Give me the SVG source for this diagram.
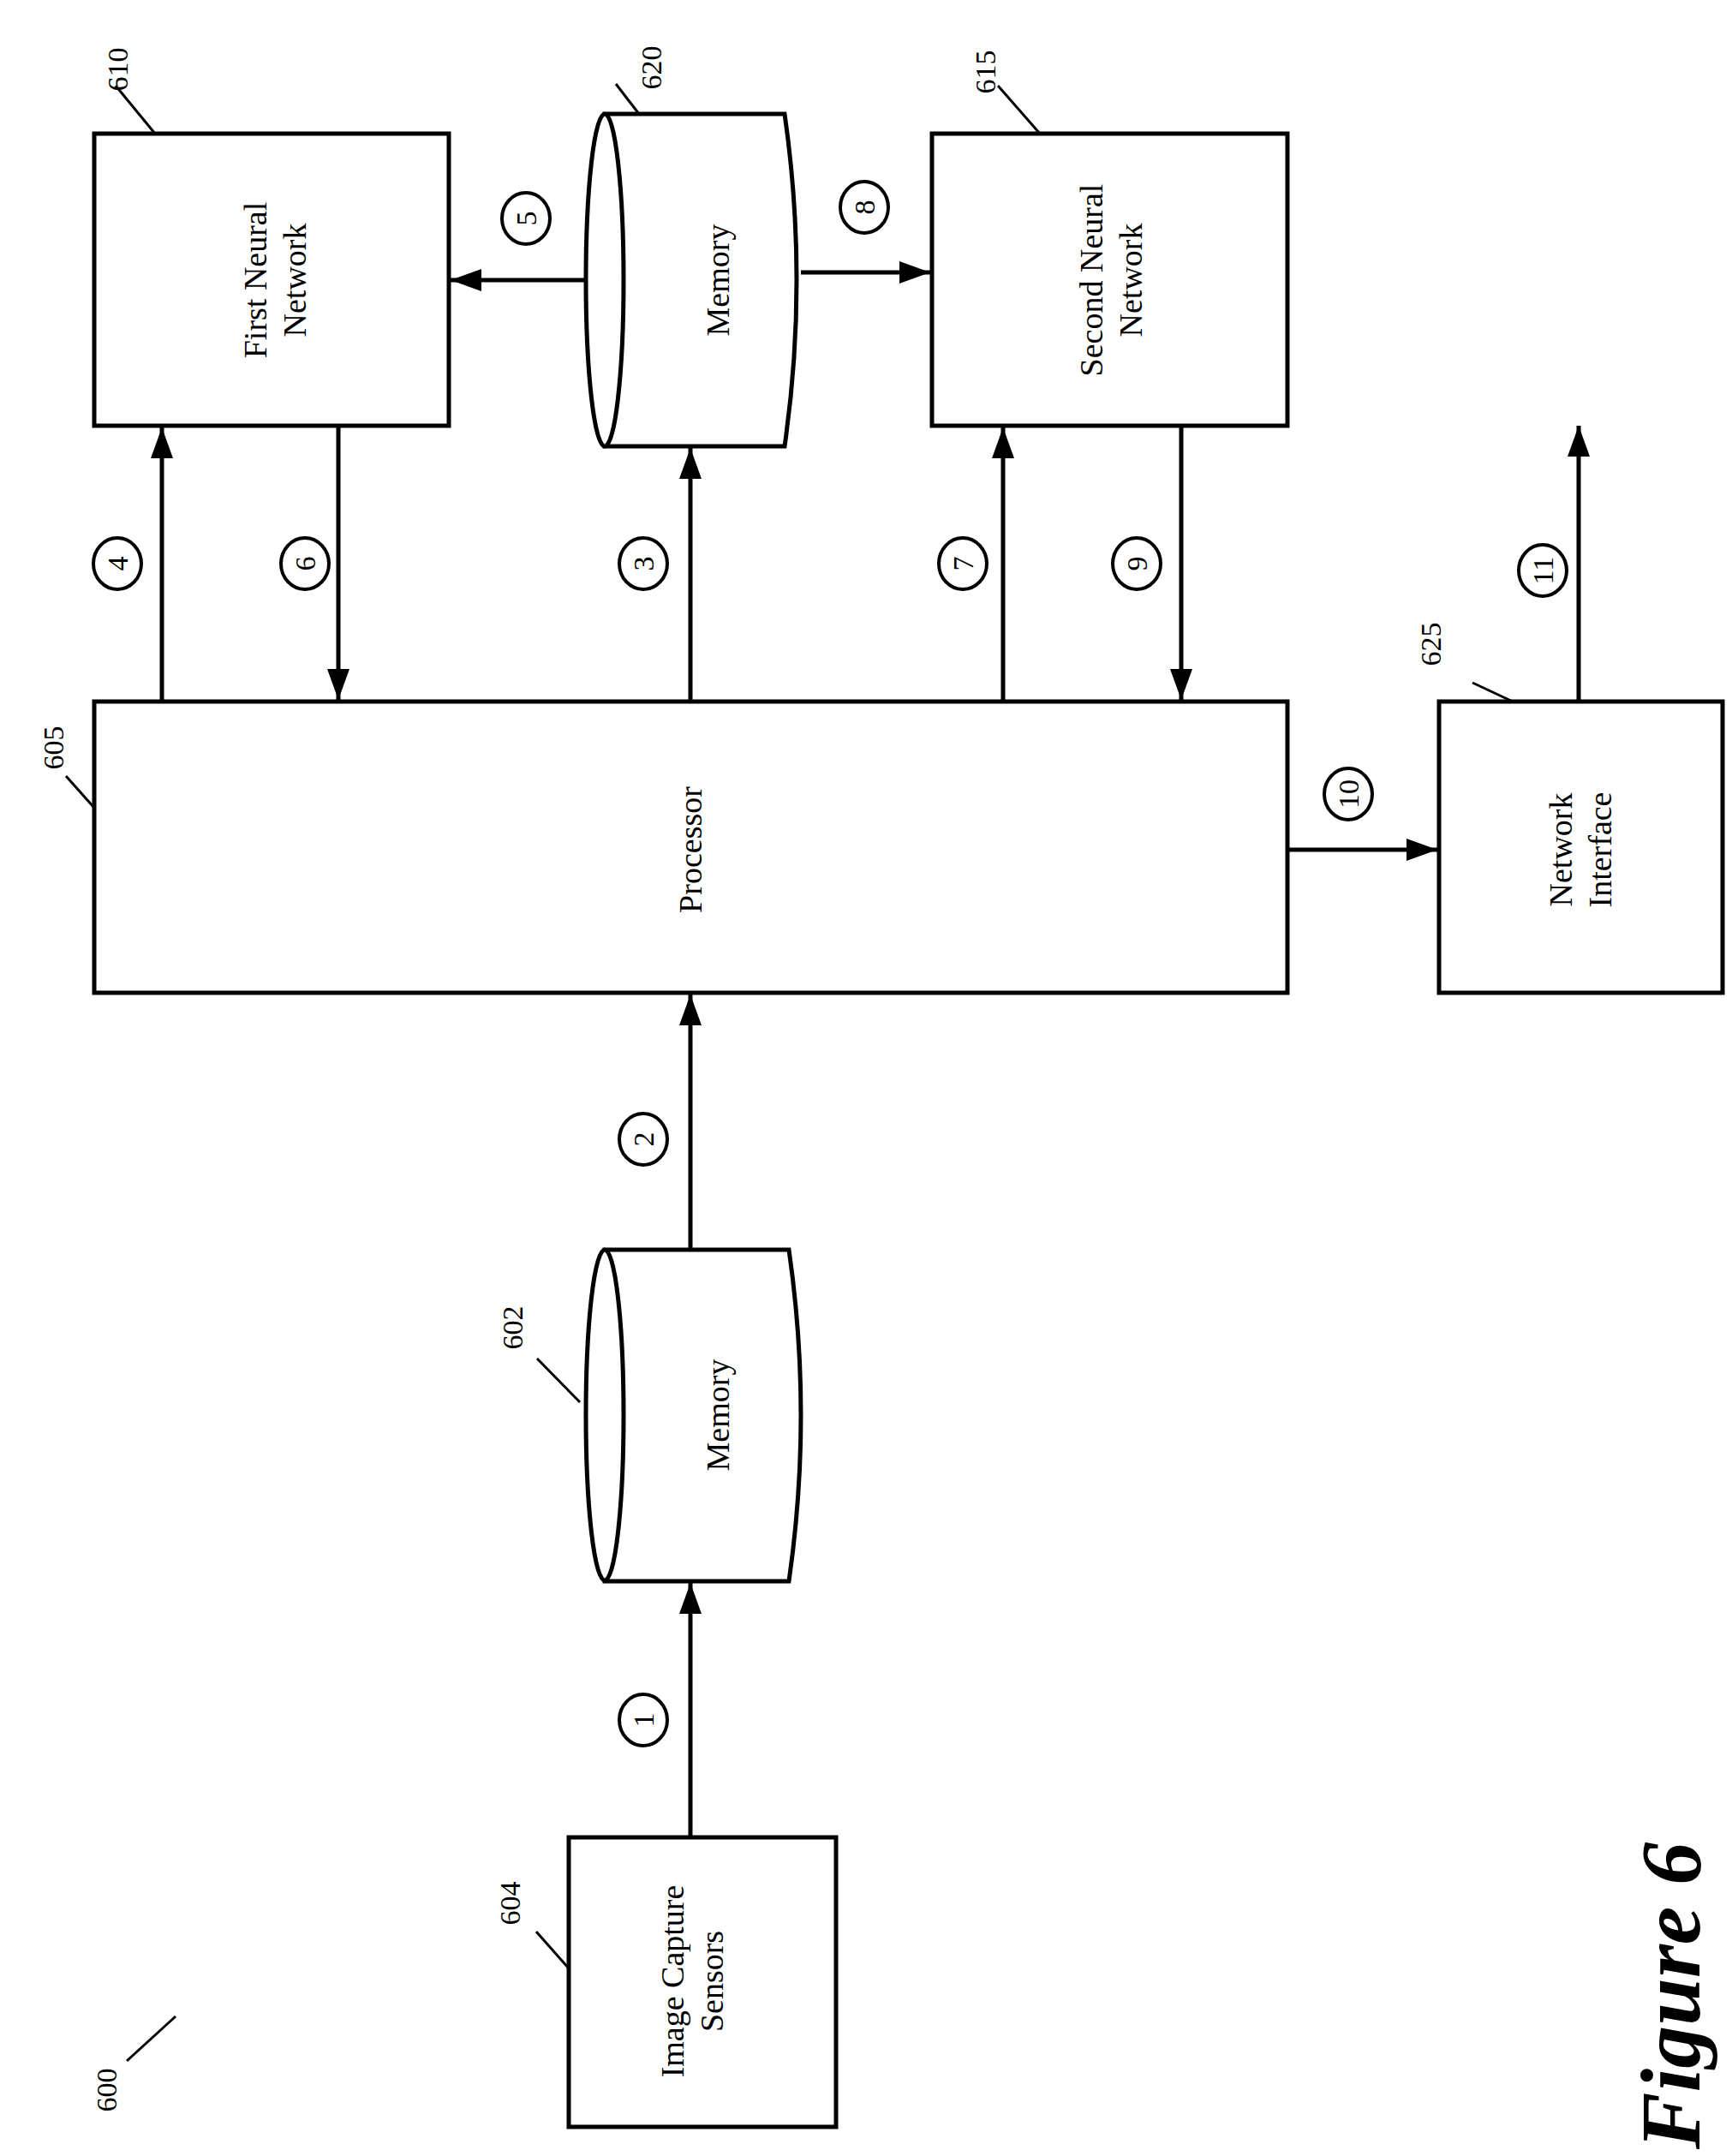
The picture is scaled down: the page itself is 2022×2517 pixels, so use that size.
<svg xmlns="http://www.w3.org/2000/svg" width="2022" height="2517" viewBox="0 0 2022 2517">
<style>
.b{fill:#fff;stroke:#000;stroke-width:5}
.l{stroke:#000;stroke-width:5;fill:none}
.ld{stroke:#000;stroke-width:3;fill:none}
.c{fill:#fff;stroke:#000;stroke-width:4}
.t{font-family:"Liberation Serif",serif;font-size:38px;text-anchor:middle}
.n{font-family:"Liberation Serif",serif;font-size:34px;text-anchor:middle}
.f{font-family:"Liberation Serif",serif;font-size:100px;font-weight:bold;font-style:italic;text-anchor:middle}
</style>
<defs>
<marker id="m" viewBox="0 0 36 26" refX="36" refY="13" markerWidth="36" markerHeight="26" markerUnits="userSpaceOnUse" orient="auto"><path d="M0,0 L36,13 L0,26 z"/></marker>
</defs>
<g id="n610"><rect class="b" x="110" y="156" width="414" height="341"/>
<text class="t" transform="translate(317,327) rotate(-90)"><tspan x="0" y="-6">First Neural</tspan><tspan x="0" y="40">Network</tspan></text>
<text class="n" transform="translate(137,81) rotate(-90)" y="12">610</text><line class="ld" x1="181" y1="156" x2="135" y2="100"/></g>
<g id="n620"><path class="b" d="M706,133 L916,133 Q944,327 916,521 L706,521 Z"/><ellipse class="b" cx="706" cy="327" rx="22" ry="194"/>
<text class="t" transform="translate(838,327) rotate(-90)" y="13">Memory</text>
<text class="n" transform="translate(760,79) rotate(-90)" y="12">620</text><line class="ld" x1="746" y1="133" x2="719" y2="98"/></g>
<g id="n615"><rect class="b" x="1088" y="156" width="415" height="341"/>
<text class="t" transform="translate(1296,327) rotate(-90)"><tspan x="0" y="-9">Second Neural</tspan><tspan x="0" y="37">Network</tspan></text>
<text class="n" transform="translate(1150,84) rotate(-90)" y="12">615</text><line class="ld" x1="1214" y1="156" x2="1165" y2="100"/></g>
<g id="n605"><rect class="b" x="110" y="819" width="1393" height="340"/>
<text class="t" transform="translate(806,992) rotate(-90)" y="13">Processor</text>
<text class="n" transform="translate(62,873) rotate(-90)" y="12">605</text><line class="ld" x1="110" y1="943" x2="77" y2="906"/></g>
<g id="n625"><rect class="b" x="1680" y="819" width="331" height="340"/>
<text class="t" transform="translate(1845,992) rotate(-90)"><tspan x="0" y="-10">Network</tspan><tspan x="0" y="36">Interface</tspan></text>
<text class="n" transform="translate(1670,752) rotate(-90)" y="12">625</text><line class="ld" x1="1766" y1="819" x2="1719" y2="797"/></g>
<g id="n602"><path class="b" d="M706,1459 L921,1459 Q949,1652 921,1846 L706,1846 Z"/><ellipse class="b" cx="706" cy="1652" rx="22" ry="193"/>
<text class="t" transform="translate(838,1652) rotate(-90)" y="13">Memory</text>
<text class="n" transform="translate(598,1550) rotate(-90)" y="12">602</text><line class="ld" x1="677" y1="1637" x2="627" y2="1586"/></g>
<g id="n604"><rect class="b" x="664" y="2145" width="312" height="338"/>
<text class="t" transform="translate(807,2313) rotate(-90)"><tspan x="0" y="-9">Image Capture</tspan><tspan x="0" y="37">Sensors</tspan></text>
<text class="n" transform="translate(595,2222) rotate(-90)" y="12">604</text><line class="ld" x1="664" y1="2298" x2="626" y2="2255"/></g>
<g id="n600"><text class="n" transform="translate(124,2440) rotate(-90)" y="12">600</text><line class="ld" x1="148" y1="2406" x2="205" y2="2354"/></g>
<g id="connectors">
<line class="l" x1="189" y1="819" x2="189" y2="499" marker-end="url(#m)"/>
<line class="l" x1="395" y1="497" x2="395" y2="817" marker-end="url(#m)"/>
<line class="l" x1="806" y1="819" x2="806" y2="523" marker-end="url(#m)"/>
<line class="l" x1="1171" y1="819" x2="1171" y2="499" marker-end="url(#m)"/>
<line class="l" x1="1379" y1="497" x2="1379" y2="817" marker-end="url(#m)"/>
<line class="l" x1="684" y1="327" x2="526" y2="327" marker-end="url(#m)"/>
<line class="l" x1="935" y1="318" x2="1086" y2="318" marker-end="url(#m)"/>
<line class="l" x1="1503" y1="992" x2="1678" y2="992" marker-end="url(#m)"/>
<line class="l" x1="1843" y1="819" x2="1843" y2="497" marker-end="url(#m)"/>
<line class="l" x1="806" y1="1459" x2="806" y2="1161" marker-end="url(#m)"/>
<line class="l" x1="806" y1="2145" x2="806" y2="1848" marker-end="url(#m)"/>
</g>
<g id="labels">
<ellipse class="c" cx="137" cy="658" rx="28" ry="30"/><text class="n" transform="translate(137,658) rotate(-90)" y="12">4</text>
<ellipse class="c" cx="356" cy="658" rx="28" ry="30"/><text class="n" transform="translate(356,658) rotate(-90)" y="12">6</text>
<ellipse class="c" cx="751" cy="658" rx="28" ry="30"/><text class="n" transform="translate(751,658) rotate(-90)" y="12">3</text>
<ellipse class="c" cx="1124" cy="658" rx="28" ry="30"/><text class="n" transform="translate(1124,658) rotate(-90)" y="12">7</text>
<ellipse class="c" cx="1327" cy="658" rx="28" ry="30"/><text class="n" transform="translate(1327,658) rotate(-90)" y="12">9</text>
<ellipse class="c" cx="1801" cy="666" rx="28" ry="30"/><text class="n" transform="translate(1801,666) rotate(-90)" y="12">11</text>
<ellipse class="c" cx="614" cy="255" rx="28" ry="30"/><text class="n" transform="translate(614,255) rotate(-90)" y="12">5</text>
<ellipse class="c" cx="1009" cy="242" rx="28" ry="30"/><text class="n" transform="translate(1009,242) rotate(-90)" y="12">8</text>
<ellipse class="c" cx="1574" cy="927" rx="28" ry="30"/><text class="n" transform="translate(1574,927) rotate(-90)" y="12">10</text>
<ellipse class="c" cx="751" cy="1330" rx="28" ry="30"/><text class="n" transform="translate(751,1330) rotate(-90)" y="12">2</text>
<ellipse class="c" cx="751" cy="2008" rx="28" ry="30"/><text class="n" transform="translate(751,2008) rotate(-90)" y="12">1</text>
</g>
<text class="f" transform="translate(1950,2330) rotate(-90)" y="34">Figure 6</text>
</svg>
